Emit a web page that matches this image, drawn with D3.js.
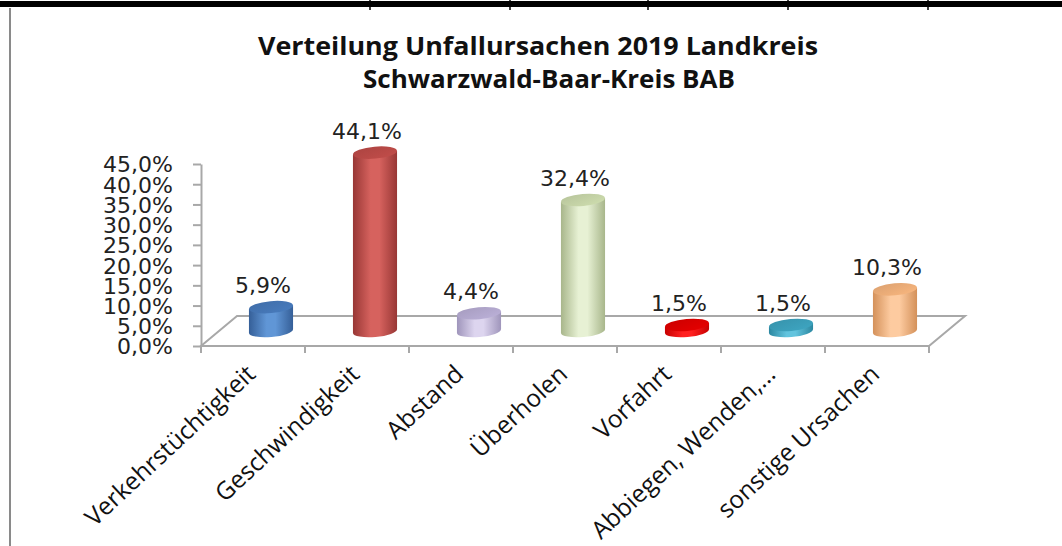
<!DOCTYPE html>
<html><head><meta charset="utf-8">
<script src="https://cdn.jsdelivr.net/npm/d3@7"></script>
<style>body{margin:0;background:#fff;} svg{display:block}</style>
</head><body><svg id="c" width="1062" height="546"></svg>
<script>
// ---- data ----
const titleLines = ["Verteilung Unfallursachen 2019 Landkreis", "Schwarzwald-Baar-Kreis BAB"];
const categories = ["Verkehrstüchtigkeit", "Geschwindigkeit", "Abstand", "Überholen", "Vorfahrt", "Abbiegen, Wenden,…", "sonstige Ursachen"];
const values = [5.9, 44.1, 4.4, 32.4, 1.5, 1.5, 10.3];
const yTicks = [0, 5, 10, 15, 20, 25, 30, 35, 40, 45];
const sheetColumns = [370, 510, 648, 788, 928];

// ---- styles ----
const palette = [
  {edge:"#355f98", mid:"#6096d6", top:"#4373b1"},
  {edge:"#983735", mid:"#d6625e", top:"#b54845"},
  {edge:"#9f95bb", mid:"#ddd5ef", top:"#afa5ca"},
  {edge:"#a8b68b", mid:"#e7f1d4", top:"#c1cfa3"},
  {edge:"#c80000", mid:"#ff2020", top:"#d70000"},
  {edge:"#2b87a0", mid:"#62c4de", top:"#3a9bb5"},
  {edge:"#d4915a", mid:"#fdcba0", top:"#e8aa76"}
];
const fmt = v => v.toFixed(1).replace(".", ",") + "%";

const svg = d3.select("#c");
const defs = svg.append("defs");

// sheet frame
svg.append("rect").attr("x",0).attr("y",1).attr("width",1062).attr("height",6).attr("fill","#000");
svg.selectAll("line.col").data(sheetColumns).join("line")
  .attr("x1",d=>d).attr("x2",d=>d).attr("y1",0).attr("y2",10)
  .attr("stroke","#000").attr("stroke-width",1.5);
svg.append("line").attr("x1",10).attr("x2",10).attr("y1",8).attr("y2",546)
  .attr("stroke","#8a8a8a").attr("stroke-width",2);

// title
const titleY = [55, 88], titleX = [538, 549], titleW = [560, 372];
titleLines.forEach((t,i) => {
  svg.append("text").attr("x", titleX[i]).attr("y", titleY[i])
    .attr("text-anchor","middle")
    .attr("font-family","'Liberation Sans Narrow','Arial Narrow','Open Sans',sans-serif")
    .attr("font-weight","bold").attr("font-size",25).attr("fill","#111")
    .attr("textLength", titleW[i]).attr("lengthAdjust","spacingAndGlyphs")
    .text(t);
});

// scales
const x = d3.scaleBand().domain(categories).range([201, 929]).paddingInner(0).paddingOuter(0);
const y = d3.scaleLinear().domain([0, 45]).range([346, 164]);
const DX = 36, DY = -30; // depth offset of the floor
const gridCol = "#a8a8a8";

// floor
const x0 = x.range()[0], x1 = x.range()[1], yb = y(0);
svg.append("path")
  .attr("d", `M${x0},${yb} L${x1},${yb} L${x1+DX},${yb+DY} L${x0+DX},${yb+DY} Z`)
  .attr("fill","none").attr("stroke",gridCol).attr("stroke-width",2);

// value axis
const yAxis = d3.axisLeft(y).tickValues(yTicks).tickFormat(fmt).tickSize(8).tickSizeOuter(0).tickPadding(20);
const gy = svg.append("g").attr("transform",`translate(${x0},0)`).call(yAxis);
gy.select(".domain").attr("stroke",gridCol).attr("stroke-width",2);
gy.selectAll(".tick line").attr("stroke",gridCol).attr("stroke-width",2);
gy.selectAll(".tick text").attr("font-family","'DejaVu Sans',Verdana,sans-serif")
  .attr("font-size",22).attr("fill","#222").attr("dy","0.36em");

// category ticks
const bounds = categories.map(c => x(c)).concat([x1]);
svg.selectAll("line.ct").data(bounds).join("line")
  .attr("x1",d=>d).attr("x2",d=>d).attr("y1",yb).attr("y2",yb+7)
  .attr("stroke",gridCol).attr("stroke-width",2);

// category labels
svg.selectAll("text.cat").data(categories).join("text")
  .attr("class","cat")
  .attr("transform", d => `translate(${x(d) + x.bandwidth()/2 + 4},${yb + 30}) rotate(-43)`)
  .attr("text-anchor","end")
  .attr("font-family","'Open Sans',sans-serif").attr("font-size",24.5).attr("fill","#111")
  .text(d => d);

// cylinders
const rx = x.bandwidth() * 0.212, ry = 6, rot = -5;
categories.forEach((c, i) => {
  const v = values[i], p = palette[i];
  const cx = x(c) + x.bandwidth()/2 + DX/2;
  const baseY = y(0) + DY/2, topY = y(v) + DY/2;
  const gid = "g" + i;
  const g = defs.append("linearGradient").attr("id", gid).attr("x1",0).attr("x2",1).attr("y1",0).attr("y2",0);
  g.append("stop").attr("offset",0).attr("stop-color",p.edge);
  g.append("stop").attr("offset",0.4).attr("stop-color",p.mid);
  g.append("stop").attr("offset",0.6).attr("stop-color",p.mid);
  g.append("stop").attr("offset",1).attr("stop-color",p.edge);
  const tg = defs.append("linearGradient").attr("id","t"+i).attr("x1",0).attr("x2",1).attr("y1",0).attr("y2",1);
  tg.append("stop").attr("offset",0).attr("stop-color",d3.color(p.top).darker(0.15));
  tg.append("stop").attr("offset",1).attr("stop-color",d3.color(p.top).brighter(0.2));
  const dyRot = Math.sin(rot*Math.PI/180) * rx; // tilt
  svg.append("path")
    .attr("d", `M${cx-rx},${topY-dyRot} L${cx-rx},${baseY-dyRot} A${rx},${ry} ${rot} 0 0 ${cx+rx},${baseY+dyRot} L${cx+rx},${topY+dyRot} Z`)
    .attr("fill", `url(#${gid})`);
  svg.append("ellipse").attr("cx",cx).attr("cy",topY).attr("rx",rx).attr("ry",ry)
    .attr("transform",`rotate(${rot},${cx},${topY})`)
    .attr("fill",`url(#t${i})`);
  svg.append("text").attr("x", cx - 8).attr("y", topY - ry - 8)
    .attr("text-anchor","middle").attr("font-family","'DejaVu Sans',Verdana,sans-serif")
    .attr("font-size",22).attr("fill","#222").text(fmt(v));
});
</script></body></html>
